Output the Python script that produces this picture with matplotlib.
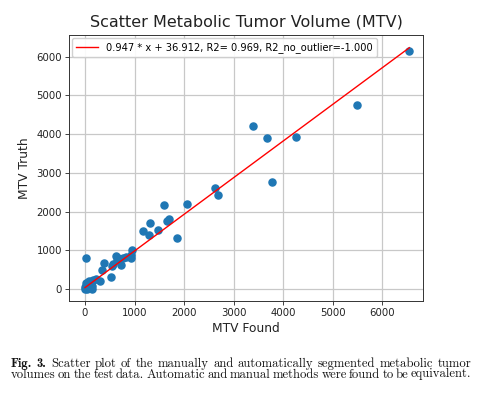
import matplotlib
matplotlib.use("Agg")
import matplotlib.pyplot as plt
import numpy as np

mtv_found = [6545, 5483, 3391, 3680, 4252, 3781,
             2617, 2691, 1594, 2052, 1312, 1177, 1292, 1465, 1648, 1700, 1850,
             20, 383, 350, 531, 630, 672, 558, 538, 720, 774, 827, 928, 928, 948, 639,
             309, 222, 168, 135,
             0, 10, 30, 50, 80, 100, 20, 60, 120, 5, 140, 40, 90, 150]
mtv_truth = [6150, 4762, 4212, 3902, 3936, 2757,
             2618, 2429, 2171, 2205, 1705, 1499, 1387, 1516, 1762, 1805, 1330,
             797, 680, 491, 306, 853, 809, 646, 594, 628, 793, 835, 878, 793, 1000, 749,
             214, 250, 233, 207,
             0, 30, 80, 10, 40, 120, 150, 180, 20, 60, 90, 110, 200, 0]
slope = 0.947
intercept = 36.912
legend_label = "0.947 * x + 36.912, R2= 0.969, R2_no_outlier=-1.000"
title = "Scatter Metabolic Tumor Volume (MTV)"
xlabel = "MTV Found"
ylabel = "MTV Truth"
caption_bold = "Fig. 3."
caption_line1 = "Scatter plot of the manually and automatically segmented metabolic tumor"
caption_line2 = "volumes on the test data. Automatic and manual methods were found to be equivalent."

W, H = 493, 394
fig = plt.figure(figsize=(W / 100, H / 100), dpi=100)
ax = fig.add_axes([69 / W, 1 - 301 / H, (423 - 69) / W, (301 - 35) / H])

ax.scatter(mtv_found, mtv_truth, s=26, color="#1f77b4", zorder=3)
xs = np.linspace(min(mtv_found), max(mtv_found), 50)
ax.plot(xs, slope * xs + intercept, color="red", lw=1.0, label=legend_label, zorder=4)

ax.set_xlim(-323, 6820)
ax.set_ylim(-310, 6563)
ax.set_xticks([0, 1000, 2000, 3000, 4000, 5000, 6000])
ax.set_yticks([0, 1000, 2000, 3000, 4000, 5000, 6000])
ax.tick_params(labelsize=7.3, length=3, width=0.6, pad=2, colors="#222222")
ax.grid(True, color="#c8c8c8", lw=0.9)
ax.set_axisbelow(True)
for s in ax.spines.values():
    s.set_linewidth(0.7)
    s.set_color("#333333")
ax.set_xlabel(xlabel, fontsize=8.8, labelpad=3, color="#222222")
ax.set_ylabel(ylabel, fontsize=8.8, labelpad=4, color="#222222")
ax.set_title(title, fontsize=11.5, pad=6, color="#222222")
ax.legend(loc="upper left", fontsize=7.15, handlelength=2.2, borderaxespad=0.35,
          framealpha=0.9, edgecolor="#cccccc", fancybox=True)

# caption, justified like the LaTeX source
fig.canvas.draw()
renderer = fig.canvas.get_renderer()
left_px, right_px = 11.0, 471.5
cap_fs = 9.15

line1 = [("Fig.", "cmb10"), ("3.", "cmb10")] + [(w, "cmr10") for w in caption_line1.split()]
line2 = [(w, "cmr10") for w in caption_line2.split()]


def place_line(chunks, y_px):
    texts = [fig.text(0, 1 - y_px / H, txt, fontfamily=fam, fontsize=cap_fs,
                      va="baseline", ha="left", color="#111111")
             for txt, fam in chunks]
    ws = [t.get_window_extent(renderer).width for t in texts]
    gap = (right_px - left_px - sum(ws)) / (len(ws) - 1)
    x = left_px
    for t, w in zip(texts, ws):
        t.set_x(x / W)
        x += w + gap


place_line(line1, 366.8)
place_line(line2, 377.5)

fig.savefig("out.png", dpi=100)
